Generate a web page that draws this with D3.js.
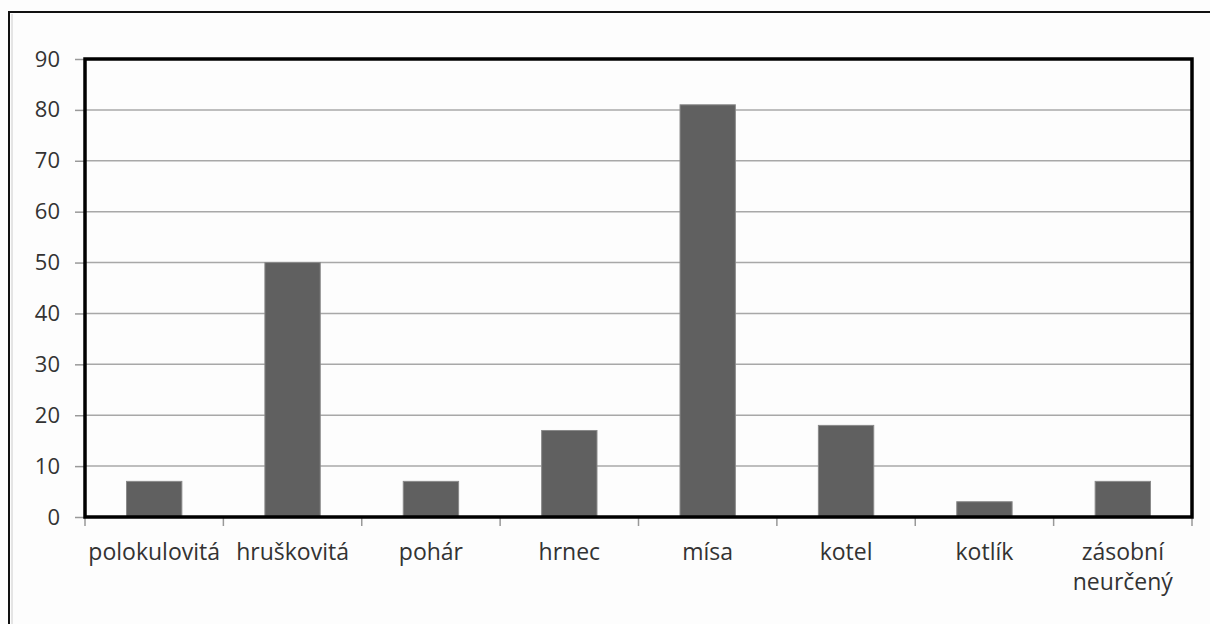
<!DOCTYPE html>
<html><head><meta charset="utf-8">
<script src="https://cdn.jsdelivr.net/npm/d3@7"></script>
<style>
html,body{margin:0;padding:0;background:#fdfdfd;}
svg{display:block;}
text{font-family:"Open Sans",sans-serif;fill:#333;}
</style></head>
<body>
<svg id="c" width="1210" height="624"></svg>
<script>
const categories = ["polokulovitá","hruškovitá","pohár","hrnec","mísa","kotel","kotlík","zásobní\nneurčený"];
const values = [7,50,7,17,81,18,3,7];
const yTicks = [0,10,20,30,40,50,60,70,80,90];

(function(){
const svg = d3.select("#c");
const W = 1210, H = 624;
const pL = 85, pR = 1192, pT = 59, pB = 517;

svg.append("rect").attr("width",W).attr("height",H).attr("fill","#fdfdfd");
// outer chart border
svg.append("rect").attr("x",9).attr("y",12).attr("width",W+20).attr("height",H+20)
  .attr("fill","none").attr("stroke","#111").attr("stroke-width",2);
svg.append("line").attr("x1",12).attr("x2",12).attr("y1",14).attr("y2",H)
  .attr("stroke","#ccc").attr("stroke-width",1);

const x = d3.scaleBand().domain(categories).range([pL,pR]).paddingInner(0).paddingOuter(0);
const y = d3.scaleLinear().domain([0,90]).range([pB,pT]);

// gridlines
svg.append("g").selectAll("line").data(yTicks.filter(t=>t>0 && t<90)).join("line")
  .attr("x1",pL).attr("x2",pR).attr("y1",d=>y(d)).attr("y2",d=>y(d))
  .attr("stroke","#a8a8a8").attr("stroke-width",1.5);

// y axis ticks + labels
const yAxis = d3.axisLeft(y).tickValues(yTicks).tickSize(10).tickPadding(15);
const gy = svg.append("g").attr("transform",`translate(${pL},0)`).call(yAxis);
gy.select(".domain").remove();
gy.selectAll(".tick line").attr("stroke","#999").attr("stroke-width",1.5);
gy.selectAll(".tick text").attr("font-size",22).attr("font-family","Open Sans").attr("fill","#3a3a3a");

// x ticks at band boundaries
const bounds = categories.map(c=>x(c)).concat([pR]);
svg.append("g").selectAll("line").data(bounds).join("line")
  .attr("x1",d=>d).attr("x2",d=>d).attr("y1",pB).attr("y2",pB+9)
  .attr("stroke","#999").attr("stroke-width",1.5);

// bars
const bw = x.bandwidth()*0.4;
svg.append("g").selectAll("rect").data(values).join("rect")
  .attr("x",(d,i)=>x(categories[i])+x.bandwidth()/2-bw/2)
  .attr("width",bw)
  .attr("y",d=>y(d)).attr("height",d=>pB-y(d))
  .attr("fill","#606060").attr("stroke","#8a8a8a").attr("stroke-width",1);

// plot border
svg.append("rect").attr("x",pL).attr("y",pT).attr("width",pR-pL).attr("height",pB-pT)
  .attr("fill","none").attr("stroke","#000").attr("stroke-width",3.5);

// x labels
const xl = svg.append("g").selectAll("text").data(categories).join("text")
  .attr("text-anchor","middle").attr("font-size",23).attr("fill","#3a3a3a")
  .attr("x",d=>x(d)+x.bandwidth()/2).attr("y",560);
xl.each(function(d){
  const lines = d.split("\n");
  d3.select(this).selectAll("tspan").data(lines).join("tspan")
    .attr("x",x(d)+x.bandwidth()/2).attr("dy",(l,i)=>i===0?0:30).text(l=>l);
});
})();
</script>
</body></html>
